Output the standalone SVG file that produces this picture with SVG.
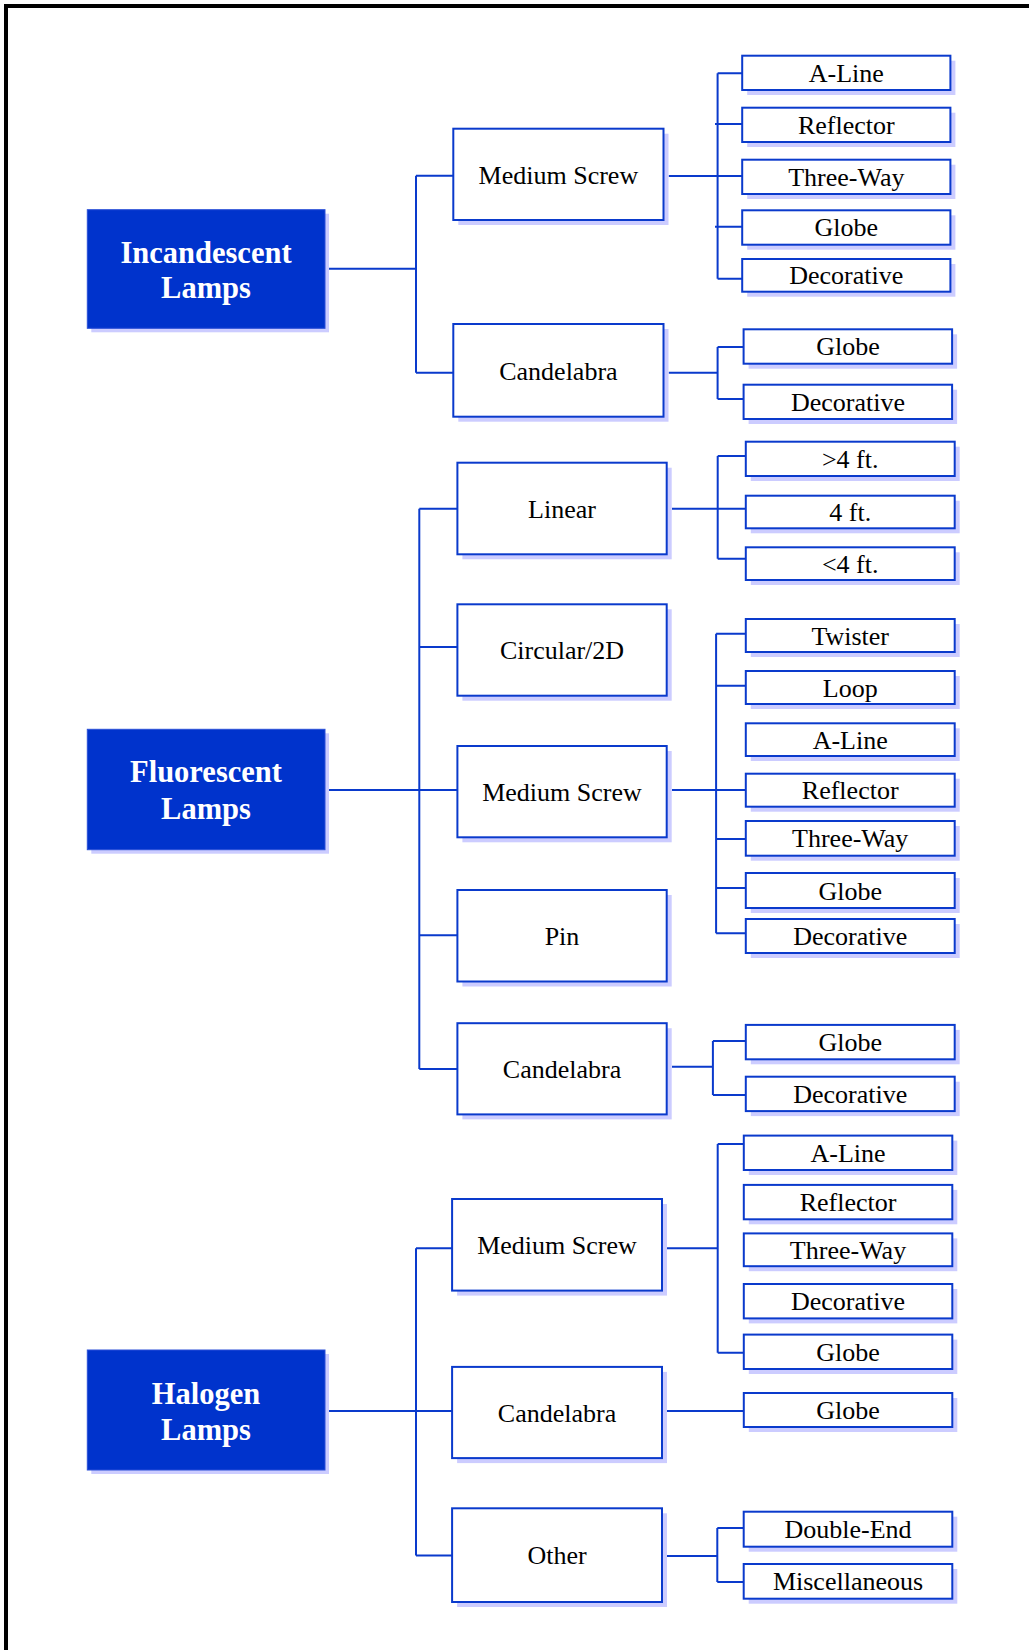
<svg xmlns="http://www.w3.org/2000/svg" width="1029" height="1650" viewBox="0 0 1029 1650">
<style>
.sh{fill:#ccccff}
.mb{fill:#0033cc;stroke:#2a4fd8;stroke-width:1}
.bx{fill:#ffffff;stroke:#0a3acc;stroke-width:2}
.c{stroke:#0a3acc;stroke-width:2;fill:none}
.t{font-family:"Liberation Serif","Times New Roman",serif;font-size:26px;fill:#000;text-anchor:middle}
.tb{font-family:"Liberation Serif","Times New Roman",serif;font-weight:bold;font-size:30.5px;fill:#fff;text-anchor:middle}
</style>
<rect width="1029" height="1650" fill="#ffffff"/>
<g id="frame">
<line x1="4" y1="6" x2="1029" y2="6" stroke="#000" stroke-width="4"/>
<line x1="6" y1="4" x2="6" y2="1650" stroke="#000" stroke-width="4"/>
</g>
<g id="connectors" class="c">
<path d="M329 268.7H416M416 175.7V372.7M416 175.7H453M416 372.7H453"/>
<path d="M668.7 176H742M717.6 73.3V278.7M717.6 73.3H742M715 124H742M715 226.7H742M717.6 278.7H742"/>
<path d="M668.7 372.7H717.6M717.6 347V399M717.6 347H743.6M717.6 399H743.6"/>
<path d="M329 790H457M419.3 508.7V1069M419.3 508.7H457M419.3 647H457M419.3 935.3H457M419.3 1069H457"/>
<path d="M672 508.7H745.8M717.7 456V558.7M717.7 456H745.8M717.7 558.7H745.8"/>
<path d="M672 790H745.8M716.1 633.7V933.3M716.1 633.7H745.8M716.1 685.7H745.8M716.1 839H745.8M716.1 888H745.8M716.1 933.3H745.8"/>
<path d="M672 1066.7H712.9M712.9 1041V1094.9M712.9 1041H745.8M712.9 1094.9H745.8"/>
<path d="M329 1410.9H452M416 1248.3V1555.6M416 1248.3H452M416 1555.6H452"/>
<path d="M666.7 1248.3H717.7M717.7 1143.9V1352.8M717.7 1143.9H743.8M717.7 1352.8H743.8"/>
<path d="M666.7 1410.9H743.8"/>
<path d="M667 1556H717.3M717.3 1528V1582M717.3 1528H743.8M717.3 1582H743.8"/>
</g>
<g id="incandescent">
<rect class="sh" x="91.3" y="213.7" width="237.7" height="118.6"/>
<rect class="mb" x="87.3" y="209.7" width="237.7" height="118.6"/>
<text class="tb" x="206" y="263">Incandescent</text>
<text class="tb" x="206" y="298">Lamps</text>
</g>
<g id="fluorescent">
<rect class="sh" x="91.3" y="733.3" width="237.7" height="120.4"/>
<rect class="mb" x="87.3" y="729.3" width="237.7" height="120.4"/>
<text class="tb" x="206" y="782">Fluorescent</text>
<text class="tb" x="206" y="819">Lamps</text>
</g>
<g id="halogen">
<rect class="sh" x="91.3" y="1354" width="237.7" height="120"/>
<rect class="mb" x="87.3" y="1350" width="237.7" height="120"/>
<text class="tb" x="206" y="1403.5">Halogen</text>
<text class="tb" x="206" y="1440">Lamps</text>
</g>
<g id="inc-medium-screw">
<rect class="sh" x="458.3" y="133.7" width="210.2" height="91.3"/>
<rect class="bx" x="453.3" y="128.7" width="210.2" height="91.3"/>
<text class="t" x="558.4" y="184">Medium Screw</text>
</g>
<g id="inc-candelabra">
<rect class="sh" x="458.3" y="329" width="210.2" height="92.7"/>
<rect class="bx" x="453.3" y="324" width="210.2" height="92.7"/>
<text class="t" x="558.4" y="379.5">Candelabra</text>
</g>
<g id="inc-ms-aline"><rect class="sh" x="747.2" y="60.7" width="208.2" height="34.3"/><rect class="bx" x="742.2" y="55.7" width="208.2" height="34.3"/><text class="t" x="846.3" y="81.7">A-Line</text></g>
<g id="inc-ms-reflector"><rect class="sh" x="747.2" y="112.7" width="208.2" height="34.3"/><rect class="bx" x="742.2" y="107.7" width="208.2" height="34.3"/><text class="t" x="846.3" y="133.7">Reflector</text></g>
<g id="inc-ms-threeway"><rect class="sh" x="747.2" y="164.7" width="208.2" height="34.3"/><rect class="bx" x="742.2" y="159.7" width="208.2" height="34.3"/><text class="t" x="846.3" y="185.7">Three-Way</text></g>
<g id="inc-ms-globe"><rect class="sh" x="747.2" y="215.3" width="208.2" height="34.4"/><rect class="bx" x="742.2" y="210.3" width="208.2" height="34.4"/><text class="t" x="846.3" y="236.4">Globe</text></g>
<g id="inc-ms-decorative"><rect class="sh" x="747.2" y="264" width="208.2" height="32.7"/><rect class="bx" x="742.2" y="259" width="208.2" height="32.7"/><text class="t" x="846.3" y="284.4">Decorative</text></g>
<g id="inc-c-globe"><rect class="sh" x="748.6" y="334.3" width="208.5" height="34.4"/><rect class="bx" x="743.6" y="329.3" width="208.5" height="34.4"/><text class="t" x="847.9" y="355.4">Globe</text></g>
<g id="inc-c-decorative"><rect class="sh" x="748.6" y="389.7" width="208.5" height="34.3"/><rect class="bx" x="743.6" y="384.7" width="208.5" height="34.3"/><text class="t" x="847.9" y="410.8">Decorative</text></g>
<g id="fl-linear"><rect class="sh" x="462.4" y="467.7" width="209.3" height="91.6"/><rect class="bx" x="457.4" y="462.7" width="209.3" height="91.6"/><text class="t" x="562" y="517.5">Linear</text></g>
<g id="fl-circular"><rect class="sh" x="462.4" y="609.3" width="209.3" height="91.4"/><rect class="bx" x="457.4" y="604.3" width="209.3" height="91.4"/><text class="t" x="562" y="659">Circular/2D</text></g>
<g id="fl-medium-screw"><rect class="sh" x="462.4" y="751" width="209.3" height="91.3"/><rect class="bx" x="457.4" y="746" width="209.3" height="91.3"/><text class="t" x="562" y="800.7">Medium Screw</text></g>
<g id="fl-pin"><rect class="sh" x="462.4" y="895" width="209.3" height="91.5"/><rect class="bx" x="457.4" y="890" width="209.3" height="91.5"/><text class="t" x="562" y="944.7">Pin</text></g>
<g id="fl-candelabra"><rect class="sh" x="462.4" y="1028.2" width="209.3" height="91.2"/><rect class="bx" x="457.4" y="1023.2" width="209.3" height="91.2"/><text class="t" x="562" y="1077.8">Candelabra</text></g>
<g id="fl-l-gt4"><rect class="sh" x="750.8" y="446.7" width="208.9" height="34.3"/><rect class="bx" x="745.8" y="441.7" width="208.9" height="34.3"/><text class="t" x="850.2" y="467.8">&gt;4 ft.</text></g>
<g id="fl-l-4"><rect class="sh" x="750.8" y="500.7" width="208.9" height="32.6"/><rect class="bx" x="745.8" y="495.7" width="208.9" height="32.6"/><text class="t" x="850.2" y="520.9">4 ft.</text></g>
<g id="fl-l-lt4"><rect class="sh" x="750.8" y="552.3" width="208.9" height="32.7"/><rect class="bx" x="745.8" y="547.3" width="208.9" height="32.7"/><text class="t" x="850.2" y="572.6">&lt;4 ft.</text></g>
<g id="fl-ms-twister"><rect class="sh" x="750.8" y="624" width="208.9" height="33"/><rect class="bx" x="745.8" y="619" width="208.9" height="33"/><text class="t" x="850.2" y="644.5">Twister</text></g>
<g id="fl-ms-loop"><rect class="sh" x="750.8" y="676" width="208.9" height="33"/><rect class="bx" x="745.8" y="671" width="208.9" height="33"/><text class="t" x="850.2" y="696.5">Loop</text></g>
<g id="fl-ms-aline"><rect class="sh" x="750.8" y="728.3" width="208.9" height="32.7"/><rect class="bx" x="745.8" y="723.3" width="208.9" height="32.7"/><text class="t" x="850.2" y="748.6">A-Line</text></g>
<g id="fl-ms-reflector"><rect class="sh" x="750.8" y="778.7" width="208.9" height="33"/><rect class="bx" x="745.8" y="773.7" width="208.9" height="33"/><text class="t" x="850.2" y="799.2">Reflector</text></g>
<g id="fl-ms-threeway"><rect class="sh" x="750.8" y="826" width="208.9" height="34.7"/><rect class="bx" x="745.8" y="821" width="208.9" height="34.7"/><text class="t" x="850.2" y="847.3">Three-Way</text></g>
<g id="fl-ms-globe"><rect class="sh" x="750.8" y="878" width="208.9" height="35"/><rect class="bx" x="745.8" y="873" width="208.9" height="35"/><text class="t" x="850.2" y="899.5">Globe</text></g>
<g id="fl-ms-decorative"><rect class="sh" x="750.8" y="924" width="208.9" height="34"/><rect class="bx" x="745.8" y="919" width="208.9" height="34"/><text class="t" x="850.2" y="945">Decorative</text></g>
<g id="fl-c-globe"><rect class="sh" x="750.8" y="1029.9" width="208.9" height="34.4"/><rect class="bx" x="745.8" y="1024.9" width="208.9" height="34.4"/><text class="t" x="850.2" y="1051">Globe</text></g>
<g id="fl-c-decorative"><rect class="sh" x="750.8" y="1081.7" width="208.9" height="34.4"/><rect class="bx" x="745.8" y="1076.7" width="208.9" height="34.4"/><text class="t" x="850.2" y="1102.8">Decorative</text></g>
<g id="hal-medium-screw"><rect class="sh" x="457.1" y="1204" width="209.9" height="91.6"/><rect class="bx" x="452.1" y="1199" width="209.9" height="91.6"/><text class="t" x="557" y="1253.8">Medium Screw</text></g>
<g id="hal-candelabra"><rect class="sh" x="457.1" y="1371.9" width="209.9" height="91.2"/><rect class="bx" x="452.1" y="1366.9" width="209.9" height="91.2"/><text class="t" x="557" y="1421.5">Candelabra</text></g>
<g id="hal-other"><rect class="sh" x="457.1" y="1513.3" width="209.9" height="93.7"/><rect class="bx" x="452.1" y="1508.3" width="209.9" height="93.7"/><text class="t" x="557" y="1564.2">Other</text></g>
<g id="hal-ms-aline"><rect class="sh" x="748.8" y="1140.6" width="208.5" height="34.4"/><rect class="bx" x="743.8" y="1135.6" width="208.5" height="34.4"/><text class="t" x="848" y="1161.7">A-Line</text></g>
<g id="hal-ms-reflector"><rect class="sh" x="748.8" y="1189.9" width="208.5" height="34.4"/><rect class="bx" x="743.8" y="1184.9" width="208.5" height="34.4"/><text class="t" x="848" y="1211">Reflector</text></g>
<g id="hal-ms-threeway"><rect class="sh" x="748.8" y="1238.4" width="208.5" height="32.8"/><rect class="bx" x="743.8" y="1233.4" width="208.5" height="32.8"/><text class="t" x="848" y="1258.8">Three-Way</text></g>
<g id="hal-ms-decorative"><rect class="sh" x="748.8" y="1289" width="208.5" height="34.4"/><rect class="bx" x="743.8" y="1284" width="208.5" height="34.4"/><text class="t" x="848" y="1310.1">Decorative</text></g>
<g id="hal-ms-globe"><rect class="sh" x="748.8" y="1339.6" width="208.5" height="34.4"/><rect class="bx" x="743.8" y="1334.6" width="208.5" height="34.4"/><text class="t" x="848" y="1360.7">Globe</text></g>
<g id="hal-c-globe"><rect class="sh" x="748.8" y="1398" width="208.5" height="34"/><rect class="bx" x="743.8" y="1393" width="208.5" height="34"/><text class="t" x="848" y="1419">Globe</text></g>
<g id="hal-o-doubleend"><rect class="sh" x="748.7" y="1516.7" width="208.6" height="35"/><rect class="bx" x="743.7" y="1511.7" width="208.6" height="35"/><text class="t" x="848" y="1538.2">Double-End</text></g>
<g id="hal-o-misc"><rect class="sh" x="748.7" y="1569" width="208.6" height="34.7"/><rect class="bx" x="743.7" y="1564" width="208.6" height="34.7"/><text class="t" x="848" y="1590.3">Miscellaneous</text></g>
</svg>
